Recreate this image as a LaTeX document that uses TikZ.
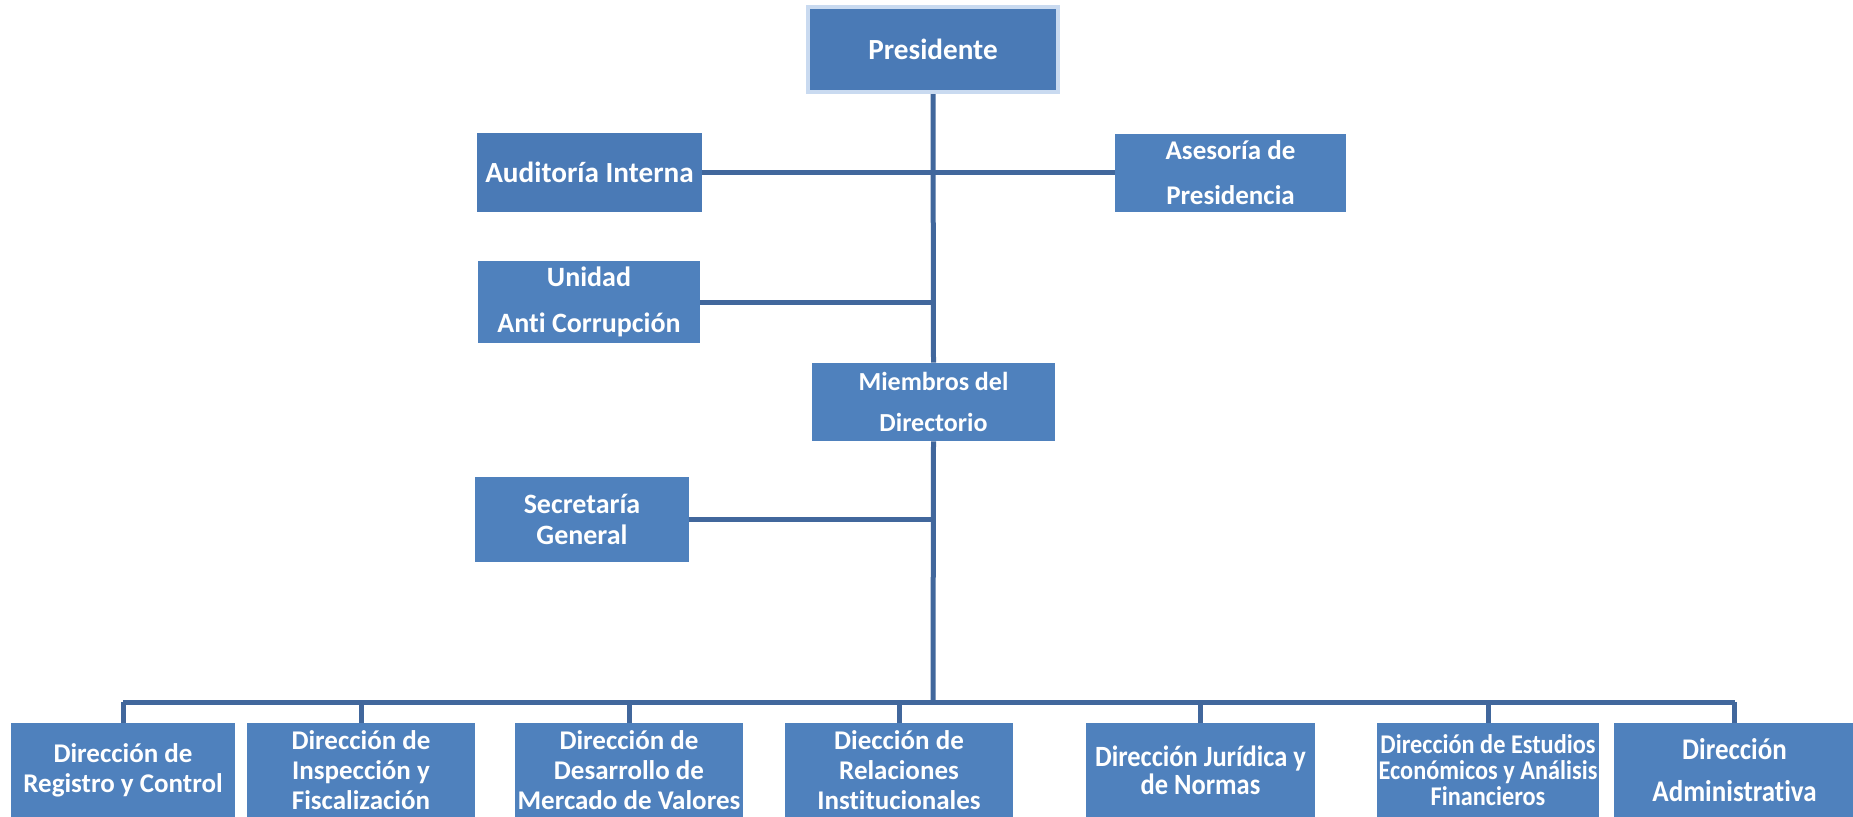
\documentclass[tikz,border=0pt]{standalone}
\usepackage{fontspec}
\setmainfont{Carlito}[Ligatures=NoCommon]
\newfontfamily\condfont{Carlito}[FakeStretch=0.9,Ligatures=NoCommon]
\definecolor{boxblue}{HTML}{4F81BD}
\definecolor{presblue}{HTML}{4A7AB6}
\definecolor{presborder}{HTML}{C9DAF0}
\definecolor{linkblue}{HTML}{41679C}
\tikzset{
  orgbox/.style={fill=boxblue, text=white, align=center, inner sep=0pt, font=\bfseries},
  link/.style={draw=linkblue, line width=2.5pt},
}
\begin{document}
\begin{tikzpicture}[x=0.5pt,y=-0.5pt]
\useasboundingbox (0,0) rectangle (1853,816);
% top level
\node[orgbox, fill=presblue, draw=presborder, line width=2pt, minimum width=125pt, minimum height=42.5pt,
  font=\bfseries\fontsize{14.6}{17}\selectfont] (pres) at (933,49.5) {Presidente};
\node[orgbox, fill=presblue, minimum width=112.5pt, minimum height=39.5pt,
  font=\bfseries\fontsize{14.6}{17}\selectfont] (aud) at (589.5,172.5) {Auditoría Interna};
\node[orgbox, minimum width=115.5pt, minimum height=39pt,
  font=\bfseries\fontsize{13.5}{22.5}\selectfont] (ases) at (1230.5,172.5) {Asesoría de\\Presidencia};
\node[orgbox, minimum width=111pt, minimum height=41pt,
  font=\bfseries\fontsize{14}{23}\selectfont] (unid) at (589,302) {Unidad\\Anti Corrupción};
\node[orgbox, minimum width=121.5pt, minimum height=39pt,
  font=\bfseries\fontsize{13}{20.5}\selectfont] (miem) at (933.5,402) {Miembros del\\Directorio};
\node[orgbox, minimum width=107pt, minimum height=42.5pt,
  font=\bfseries\fontsize{14}{15.5}\selectfont] (secr) at (582,519.5) {Secretaría\\General};
% bottom row
\tikzset{bottombox/.style={orgbox, minimum height=47.5pt, font=\bfseries\fontsize{13.5}{15}\selectfont}}
\node[bottombox, minimum width=112pt] (b1) at (123,770.5) {Dirección de\\Registro y Control};
\node[bottombox, minimum width=114pt] (b2) at (361,770.5) {Dirección de\\Inspección y\\Fiscalización};
\node[bottombox, minimum width=114pt] (b3) at (629,770.5) {Dirección de\\Desarrollo de\\Mercado de Valores};
\node[bottombox, minimum width=114pt] (b4) at (899,770.5) {Diección de\\Relaciones\\Institucionales};
\node[bottombox, minimum width=114.5pt, font=\condfont\bfseries\fontsize{14.7}{14}\selectfont] (b5) at (1200.5,770.5) {Dirección Jurídica y\\de Normas};
\node[bottombox, minimum width=111pt, font=\condfont\bfseries\fontsize{13.5}{13}\selectfont] (b6) at (1488,770.5) {Dirección de Estudios\\Económicos y Análisis\\Financieros};
\node[bottombox, minimum width=120.5pt, font=\condfont\bfseries\fontsize{15}{21}\selectfont] (b7) at (1734.5,770.5) {Dirección\\Administrativa};
% connectors
\coordinate (bus) at (933,702);
\draw[link] (pres.south) -- (miem.north);
\draw[link] (aud.east) -- (ases.west);
\draw[link] (unid.east) -- (unid.east -| pres.south);
\draw[link] (secr.east) -- (secr.east -| miem.south);
\draw[link] (miem.south) -- (bus);
\draw[link] (b1.north |- bus) -- (b7.north |- bus);
\foreach \b in {b1,b2,b3,b4,b5,b6,b7}{
  \draw[link] (\b.north |- bus) -- (\b.north);
}
\end{tikzpicture}
\end{document}
